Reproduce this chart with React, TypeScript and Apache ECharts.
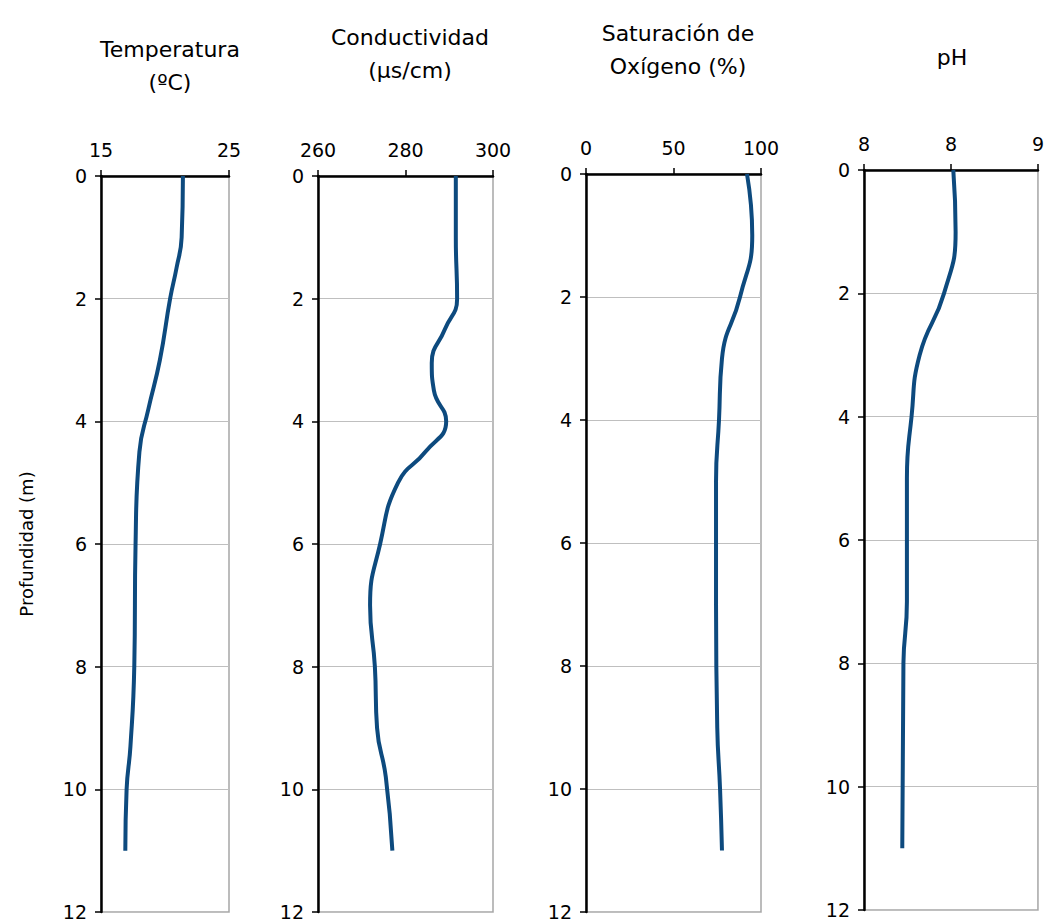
import React, { useEffect, useRef } from 'react';
import * as echarts from 'echarts';

const depth = [0, 1, 1.5, 2, 3, 3.8, 4.5, 6, 8, 9.3, 10, 11];
const temperature = [21.4, 21.3, 20.9, 20.4, 19.6, 18.7, 18.0, 17.7, 17.6, 17.3, 17.0, 16.9];

const condDepth = [0, 1, 2, 2.5, 3.05, 3.5, 4, 4.5, 5, 6, 7, 8, 9, 9.8, 11];
const conductivity = [291.5, 291.5, 291.8, 289, 286, 286.5, 289.3, 284.5, 278.3, 274.2, 271.9, 273, 273.5, 275.5, 277];

const oxyDepth = [0, 1, 2, 3, 4, 5, 7, 9, 10, 11];
const oxygen = [92, 95, 88, 77.7, 76, 74.3, 74.3, 75, 76.6, 77.7];

const phDepth = [0, 1, 2, 3, 4, 5, 7, 8, 11];
const ph = [8.27, 8.29, 8.19, 7.98, 7.91, 7.87, 7.87, 7.84, 7.83];

const titles = ['Temperatura\n(ºC)', 'Conductividad\n(µs/cm)', 'Saturación de\nOxígeno (%)', 'pH'];

const FONT = 'DejaVu Sans';
const LINE = '#0d4a7e';

const App: React.FC = () => {
  const chartRef = useRef<HTMLDivElement | null>(null);

  useEffect(() => {
    document.body.style.margin = '0';
    let chart: echarts.ECharts | null = null;
    if (chartRef.current) {
      chart = echarts.init(chartRef.current, undefined, { renderer: 'svg' });

      const grids = [
        { left: 101, width: 128, top: 176, height: 736 },
        { left: 318, width: 175, top: 176, height: 736 },
        { left: 586, width: 175, top: 174, height: 738 },
        { left: 864, width: 176, top: 170, height: 740 },
      ].map((g) => ({ ...g, show: true, borderColor: '#a6a6a6', borderWidth: 1.5 }));

      const xBase = {
        type: 'value',
        position: 'top',
        axisLine: { show: true, lineStyle: { color: '#000', width: 2.5 } },
        axisTick: { show: true, inside: false, length: 6, lineStyle: { color: '#000', width: 1.5 } },
        axisLabel: { fontFamily: FONT, fontSize: 19, color: '#000', margin: 17 },
        splitLine: { show: false },
      };

      const xAxes = [
        { ...xBase, gridIndex: 0, min: 15, max: 25,
          axisLabel: { ...xBase.axisLabel, customValues: [15, 25] },
          axisTick: { ...xBase.axisTick, customValues: [15, 25] } },
        { ...xBase, gridIndex: 1, min: 260, max: 300, interval: 20 },
        { ...xBase, gridIndex: 2, min: 0, max: 100, interval: 50 },
        { ...xBase, gridIndex: 3, min: 7.5, max: 9, interval: 0.75,
          axisLabel: { ...xBase.axisLabel, formatter: (v: number) => String(Math.round(v)) } },
      ];

      const yAxes = [0, 1, 2, 3].map((i) => ({
        type: 'value',
        gridIndex: i,
        inverse: true,
        min: 0,
        max: 12,
        interval: 2,
        name: i === 0 ? 'Profundidad (m)' : '',
        nameLocation: 'middle',
        nameGap: 66,
        nameTextStyle: { fontFamily: FONT, fontSize: 18, color: '#000' },
        axisLine: { show: true, lineStyle: { color: '#000', width: 2.5 } },
        axisTick: { show: true, length: 6, lineStyle: { color: '#000', width: 1.5 } },
        axisLabel: { fontFamily: FONT, fontSize: 19, color: '#000', margin: 14 },
        splitLine: { show: true, lineStyle: { color: '#bfbfbf', width: 1.2 } },
      }));

      const pairs = (xs: number[], ys: number[]) => xs.map((x, k) => [x, ys[k]]);
      const seriesData = [
        pairs(temperature, depth),
        pairs(conductivity, condDepth),
        pairs(oxygen, oxyDepth),
        pairs(ph, phDepth),
      ];

      const centers = [165, 405, 673, 947];
      const titleTops = [28, 16, 12, 36];

      chart.setOption({
        animation: false,
        title: titles.map((t, i) => ({
          text: t,
          left: centers[i],
          top: titleTops[i],
          textAlign: 'center',
          textStyle: { fontFamily: FONT, fontSize: 22, fontWeight: 'normal', color: '#000', lineHeight: 33 },
        })),
        grid: grids,
        xAxis: xAxes,
        yAxis: yAxes,
        series: seriesData.map((d, i) => ({
          type: 'line',
          xAxisIndex: i,
          yAxisIndex: i,
          data: d,
          smooth: 0.5,
          showSymbol: false,
          lineStyle: { color: LINE, width: 4 },
        })),
      });
    }
    return () => {
      chart?.dispose();
    };
  }, []);

  return <div ref={chartRef} style={{ width: 1047, height: 922 }}></div>;
};

export default App;
